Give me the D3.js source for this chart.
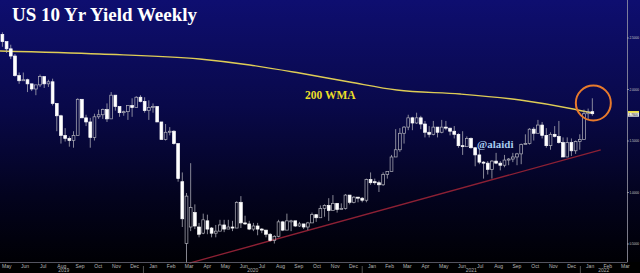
<!DOCTYPE html>
<html>
<head>
<meta charset="utf-8">
<script src="https://cdn.jsdelivr.net/npm/d3@7"></script>
<style>
  html, body { margin: 0; padding: 0; background: #000; }
  svg { display: block; }
</style>
</head>
<body>
<div id="chart"></div>
<script>
// weekly candles (week ending Friday), US 10y yield
const firstWeek = '2019-05-10';
const lastWeek = '2022-01-22';

const opens = [
  2.53, 2.46, 2.39, 2.32, 2.13, 2.08, 2.09, 2.05, 2.00, 2.04, 2.12, 2.05,
  2.07, 1.86, 1.74, 1.55, 1.52, 1.50, 1.55, 1.90, 1.72, 1.68, 1.53, 1.73, 1.75,
  1.80, 1.71, 1.94, 1.83, 1.77, 1.78, 1.84, 1.82, 1.92,
  // 2020
  1.88, 1.79, 1.82, 1.83, 1.68, 1.51, 1.58, 1.59, 1.47, 1.10, 0.50, 0.66, 0.80,
  0.66, 0.60, 0.72, 0.65, 0.60, 0.62, 0.68, 0.64, 0.66, 0.65, 0.90, 0.70, 0.69,
  0.64, 0.67, 0.64, 0.63, 0.59, 0.53, 0.57, 0.71, 0.63, 0.71, 0.72, 0.67, 0.69,
  0.66, 0.70, 0.78, 0.75, 0.84, 0.87, 0.82, 0.89, 0.83, 0.84, 0.97, 0.90, 0.95,
  // 2021
  0.94, 0.92, 1.12, 1.10, 1.09, 1.07, 1.17, 1.20, 1.34, 1.41, 1.57, 1.63, 1.72,
  1.67, 1.72, 1.66, 1.58, 1.56, 1.63, 1.58, 1.63, 1.62, 1.59, 1.56, 1.45, 1.44,
  1.52, 1.43, 1.36, 1.29, 1.28, 1.22, 1.30, 1.28, 1.26, 1.31, 1.32, 1.34, 1.37,
  1.46, 1.47, 1.61, 1.57, 1.65, 1.55, 1.45, 1.56, 1.54, 1.48, 1.34, 1.48, 1.40, 1.49,
  // 2022
  1.51, 1.76, 1.78
];
const highs = [
  2.55, 2.46, 2.43, 2.34, 2.16, 2.16, 2.10, 2.05, 2.04, 2.14, 2.12, 2.09,
  2.10, 1.86, 1.75, 1.62, 1.54, 1.59, 1.91, 1.90, 1.75, 1.72, 1.76, 1.80, 1.81,
  1.86, 1.97, 1.94, 1.83, 1.79, 1.84, 1.91, 1.93, 1.94,
  1.92, 1.89, 1.86, 1.83, 1.68, 1.66, 1.63, 1.60, 1.47, 1.19, 0.99, 1.28, 0.88,
  0.70, 0.79, 0.78, 0.66, 0.68, 0.73, 0.73, 0.73, 0.72, 0.91, 0.96, 0.77, 0.72,
  0.70, 0.70, 0.65, 0.63, 0.60, 0.58, 0.73, 0.72, 0.79, 0.73, 0.72, 0.71, 0.69,
  0.71, 0.80, 0.78, 0.87, 0.88, 0.94, 0.97, 0.89, 0.89, 0.98, 0.97, 0.96, 0.95,
  0.95, 1.13, 1.19, 1.13, 1.11, 1.19, 1.20, 1.36, 1.61, 1.62, 1.64, 1.75, 1.73,
  1.77, 1.74, 1.69, 1.64, 1.69, 1.63, 1.70, 1.69, 1.62, 1.64, 1.57, 1.59, 1.54,
  1.53, 1.43, 1.42, 1.30, 1.30, 1.31, 1.38, 1.30, 1.36, 1.33, 1.38, 1.38, 1.47,
  1.56, 1.62, 1.63, 1.70, 1.68, 1.62, 1.58, 1.64, 1.69, 1.53, 1.53, 1.52, 1.50, 1.56,
  1.80, 1.81, 1.91
];
const lows = [
  2.41, 2.35, 2.29, 2.12, 2.05, 2.08, 1.97, 1.98, 1.94, 2.02, 2.01, 2.02,
  1.84, 1.59, 1.47, 1.49, 1.44, 1.43, 1.55, 1.72, 1.64, 1.43, 1.50, 1.71, 1.71,
  1.68, 1.71, 1.79, 1.73, 1.74, 1.70, 1.73, 1.82, 1.87,
  1.77, 1.70, 1.77, 1.68, 1.51, 1.50, 1.55, 1.46, 1.10, 0.66, 0.31, 0.62, 0.64,
  0.56, 0.59, 0.59, 0.56, 0.56, 0.62, 0.61, 0.64, 0.62, 0.65, 0.65, 0.68, 0.63,
  0.62, 0.58, 0.60, 0.56, 0.52, 0.50, 0.56, 0.62, 0.63, 0.62, 0.66, 0.66, 0.64,
  0.63, 0.70, 0.71, 0.75, 0.76, 0.72, 0.82, 0.80, 0.83, 0.83, 0.88, 0.89, 0.90,
  0.90, 0.90, 1.07, 1.07, 1.00, 1.06, 1.13, 1.20, 1.34, 1.39, 1.47, 1.60, 1.60,
  1.66, 1.61, 1.53, 1.53, 1.55, 1.53, 1.57, 1.60, 1.55, 1.52, 1.43, 1.36, 1.44,
  1.42, 1.25, 1.27, 1.13, 1.17, 1.13, 1.27, 1.21, 1.24, 1.26, 1.29, 1.26, 1.27,
  1.46, 1.46, 1.50, 1.57, 1.52, 1.43, 1.41, 1.53, 1.47, 1.34, 1.34, 1.35, 1.37, 1.41,
  1.51, 1.70, 1.74
];
const closes = [
  2.46, 2.39, 2.32, 2.13, 2.08, 2.09, 2.05, 2.00, 2.04, 2.12, 2.05, 2.07,
  1.86, 1.74, 1.55, 1.52, 1.50, 1.55, 1.90, 1.72, 1.68, 1.53, 1.73, 1.75, 1.80,
  1.71, 1.94, 1.83, 1.77, 1.78, 1.84, 1.82, 1.92, 1.88,
  1.79, 1.82, 1.83, 1.68, 1.51, 1.58, 1.59, 1.47, 1.13, 0.74, 0.96, 0.85, 0.67,
  0.59, 0.73, 0.64, 0.60, 0.62, 0.68, 0.64, 0.66, 0.65, 0.90, 0.70, 0.69, 0.64,
  0.67, 0.64, 0.63, 0.59, 0.53, 0.57, 0.71, 0.63, 0.72, 0.72, 0.67, 0.69, 0.66,
  0.70, 0.78, 0.75, 0.84, 0.87, 0.82, 0.89, 0.83, 0.84, 0.97, 0.90, 0.95, 0.94,
  0.92, 1.12, 1.09, 1.09, 1.07, 1.17, 1.20, 1.34, 1.41, 1.57, 1.63, 1.72, 1.67,
  1.72, 1.66, 1.58, 1.56, 1.63, 1.58, 1.63, 1.62, 1.59, 1.56, 1.45, 1.44, 1.52,
  1.43, 1.36, 1.29, 1.28, 1.22, 1.30, 1.28, 1.26, 1.31, 1.32, 1.34, 1.37, 1.46,
  1.47, 1.61, 1.57, 1.65, 1.55, 1.45, 1.56, 1.54, 1.48, 1.34, 1.48, 1.40, 1.49, 1.51,
  1.76, 1.78, 1.76
];

// 200 week moving average
const wmaDates = ['2019-05-06', '2019-10-20', '2020-04-04', '2020-06-27', '2020-09-18',
  '2020-12-11', '2021-02-28', '2021-06-14', '2021-09-22', '2021-12-20', '2022-01-21'];
const wmaValues = [2.369, 2.340, 2.291, 2.233, 2.155, 2.068, 1.990, 1.951, 1.893, 1.806, 1.767];

// support trend line
const trendDates = ['2020-03-18', '2022-02-04'];
const trendValues = [0.31, 1.41];

const yTicks = [0.5, 1.0, 1.5, 2.0, 2.5];
const monthNames = ['Jan', 'Feb', 'Mar', 'Apr', 'May', 'Jun', 'Jul', 'Aug', 'Sep', 'Oct', 'Nov', 'Dec'];
const yearLabels = ['2019', '2020', '2021', '2022'];

const W = 640, H = 273;
const plotR = 627, plotB = 262;

const weeks = d3.utcFriday.range(new Date(firstWeek), new Date(lastWeek));
const data = weeks.map((d, i) => ({
  date: d, open: opens[i], high: highs[i], low: lows[i], close: closes[i]
}));

const x = d3.scaleUtc()
  .domain([new Date('2019-05-06'), new Date('2022-03-20')])
  .range([0, plotR]);
const y = d3.scaleLinear().domain([0.5, 2.5]).range([243.5, 37.5]);

const svg = d3.select('#chart').append('svg')
  .attr('width', W).attr('height', H);

const defs = svg.append('defs');
const grad = defs.append('linearGradient')
  .attr('id', 'bg').attr('x1', 0).attr('y1', 0).attr('x2', 0).attr('y2', 1);
grad.append('stop').attr('offset', '0%').attr('stop-color', 'rgb(14,14,112)');
grad.append('stop').attr('offset', '40%').attr('stop-color', 'rgb(9,9,74)');
grad.append('stop').attr('offset', '75%').attr('stop-color', 'rgb(3,3,30)');
grad.append('stop').attr('offset', '100%').attr('stop-color', 'rgb(0,0,4)');

svg.append('rect').attr('width', W).attr('height', H).attr('fill', '#000');
svg.append('rect').attr('width', W).attr('height', plotB).attr('fill', 'url(#bg)');

// title
svg.append('text')
  .attr('x', 12).attr('y', 21)
  .attr('fill', '#fff')
  .style('font', 'bold 19px "Liberation Serif", "Times New Roman", serif')
  .text('US 10 Yr Yield Weekly');

// 200 WMA line
const wma = wmaDates.map((d, i) => ({ date: new Date(d), v: wmaValues[i] }));
svg.append('path')
  .datum(wma)
  .attr('fill', 'none')
  .attr('stroke', 'rgb(222,204,86)')
  .attr('stroke-width', 1.4)
  .attr('d', d3.line().x(d => x(d.date)).y(d => y(d.v)).curve(d3.curveMonotoneX));

// trend line
const trend = trendDates.map((d, i) => ({ date: new Date(d), v: trendValues[i] }));
svg.append('path')
  .datum(trend)
  .attr('fill', 'none')
  .attr('stroke', 'rgb(140,32,52)')
  .attr('stroke-width', 1.3)
  .attr('d', d3.line().x(d => x(d.date)).y(d => y(d.v)));

// candles
const bodyW = 2.8;
const candle = svg.append('g').selectAll('g')
  .data(data)
  .enter().append('g');

candle.append('line')
  .attr('x1', d => x(d.date)).attr('x2', d => x(d.date))
  .attr('y1', d => y(d.high)).attr('y2', d => y(Math.max(d.open, d.close)))
  .attr('stroke', '#a9a9b4').attr('stroke-width', 0.8);
candle.append('line')
  .attr('x1', d => x(d.date)).attr('x2', d => x(d.date))
  .attr('y1', d => y(Math.min(d.open, d.close))).attr('y2', d => y(d.low))
  .attr('stroke', '#a9a9b4').attr('stroke-width', 0.8);
candle.append('rect')
  .attr('x', d => x(d.date) - bodyW / 2)
  .attr('y', d => y(Math.max(d.open, d.close)))
  .attr('width', bodyW)
  .attr('height', d => Math.max(1, Math.abs(y(d.open) - y(d.close))))
  .attr('fill', d => d.close < d.open ? '#ffffff' : 'none')
  .attr('stroke', d => d.close < d.open ? '#ffffff' : '#b4b4bc')
  .attr('stroke-width', 0.7);

// annotations
svg.append('text')
  .attr('x', 305).attr('y', 99)
  .attr('fill', 'rgb(236,222,40)')
  .style('font', 'bold 11.5px "Liberation Serif", "Times New Roman", serif')
  .text('200 WMA');
svg.append('text')
  .attr('x', 477).attr('y', 148)
  .attr('fill', 'rgb(166,204,240)')
  .style('font', 'bold 11px "Liberation Serif", "Times New Roman", serif')
  .text('@alaidi');

const last = data[data.length - 1];
svg.append('circle')
  .attr('cx', x(last.date) + 1).attr('cy', y(1.864))
  .attr('r', 17.5)
  .attr('fill', 'none')
  .attr('stroke', 'rgb(232,122,44)')
  .attr('stroke-width', 2);

// right axis
const yAxis = svg.append('g')
  .attr('transform', `translate(${plotR},0)`)
  .call(d3.axisRight(y).tickValues(yTicks).tickFormat(d3.format('.4f')).tickSize(1.6).tickPadding(0.8));
yAxis.select('.domain').remove();
yAxis.selectAll('line').attr('stroke', '#c8c8c8');
yAxis.selectAll('text').attr('fill', '#c8c8c8')
  .style('font', '3.2px "Liberation Sans", Arial, sans-serif');
svg.append('line')
  .attr('x1', plotR + 0.5).attr('x2', plotR + 0.5).attr('y1', 0).attr('y2', plotB)
  .attr('stroke', '#9a9aa8').attr('stroke-width', 0.8);

// last value tags
svg.append('rect')
  .attr('x', plotR + 1).attr('y', y(wmaValues[wmaValues.length - 1]) - 2)
  .attr('width', 11).attr('height', 2.6).attr('fill', 'rgb(236,222,60)');
svg.append('rect')
  .attr('x', plotR + 1).attr('y', y(last.close) - 1)
  .attr('width', 11).attr('height', 4).attr('fill', '#e6e6e6');
svg.append('text')
  .attr('x', plotR + 1.6).attr('y', y(last.close) + 2.2)
  .attr('fill', '#222')
  .style('font', '3.1px "Liberation Sans", Arial, sans-serif')
  .text(d3.format('.4f')(last.close));

// bottom axis: month labels centred in each month
const months = d3.utcMonth.range(new Date('2019-05-01'), new Date('2022-04-01'));
const midMonths = months.map(m => new Date(+m + (d3.utcMonth.offset(m, 1) - m) / 2));
const xAxis = svg.append('g')
  .attr('transform', `translate(0,${plotB})`)
  .call(d3.axisBottom(x).tickValues(midMonths)
    .tickFormat(d => monthNames[d.getUTCMonth()]).tickSize(0).tickPadding(2));
xAxis.select('.domain').remove();
xAxis.selectAll('text').attr('fill', '#b8b8b8')
  .style('font', '5px "Liberation Sans", Arial, sans-serif');
svg.append('line')
  .attr('x1', 0).attr('x2', plotR + 0.5).attr('y1', plotB + 0.5).attr('y2', plotB + 0.5)
  .attr('stroke', '#6a6a78').attr('stroke-width', 0.8);

// year labels and separators
yearLabels.forEach(yr => {
  const a = Math.max(0, x(new Date(`${yr}-01-01`)));
  const b = Math.min(plotR, x(new Date(`${+yr + 1}-01-01`)));
  svg.append('text')
    .attr('x', (a + b) / 2 - (a === 0 ? 8 : 0)).attr('y', 272)
    .attr('text-anchor', 'middle')
    .attr('fill', '#b0b0b0')
    .style('font', '5px "Liberation Sans", Arial, sans-serif')
    .text(yr);
  if (a > 0) {
    svg.append('line')
      .attr('x1', a).attr('x2', a).attr('y1', 266).attr('y2', 273)
      .attr('stroke', '#8a8a8a').attr('stroke-width', 0.6);
  }
});
</script>
</body>
</html>
